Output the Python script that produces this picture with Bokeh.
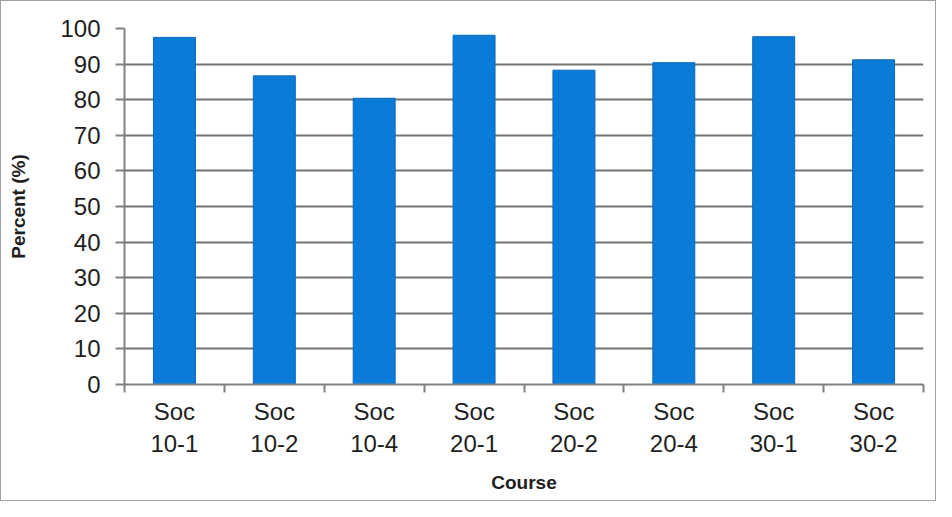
from bokeh.plotting import figure
from bokeh.models import FixedTicker, Range1d
from bokeh.embed import file_html
from bokeh.resources import INLINE

courses = ["Soc\n10-1", "Soc\n10-2", "Soc\n10-4", "Soc\n20-1", "Soc\n20-2", "Soc\n20-4", "Soc\n30-1", "Soc\n30-2"]
percent = [97.5, 86.7, 80.4, 98.1, 88.3, 90.4, 97.7, 91.2]
y_ticks = [0, 10, 20, 30, 40, 50, 60, 70, 80, 90, 100]

xs = [i + 0.5 for i in range(len(courses))]

p = figure(width=936, height=501, output_backend="svg", toolbar_location=None,
           x_range=Range1d(0, len(courses)), y_range=Range1d(0, 100),
           min_border_left=123, min_border_right=14, min_border_top=27, min_border_bottom=118)
p.styles = {"border": "1px solid #a0a0a0"}
p.outline_line_color = None

p.vbar(x=xs, top=percent, width=0.42, fill_color="#0a7bd6", line_color="#0868bd", line_width=1)

font = "Liberation Sans"
txt = "#1e1e1e"
p.xaxis.ticker = FixedTicker(ticks=xs, minor_ticks=list(range(len(courses) + 1)))
p.xaxis.major_label_overrides = {x: c for x, c in zip(xs, courses)}
p.xaxis.major_tick_line_color = None
p.xaxis.major_tick_out = 0
p.xaxis.major_tick_in = 0
p.xaxis.minor_tick_line_color = "#808080"
p.xaxis.minor_tick_line_width = 2
p.xaxis.minor_tick_out = 8
p.xaxis.minor_tick_in = 0
p.xaxis.axis_line_color = "#808080"
p.xaxis.axis_line_width = 2
p.xaxis.major_label_text_font = font
p.xaxis.major_label_text_font_size = "24px"
p.xaxis.major_label_text_color = txt
p.xaxis.major_label_standoff = 5
p.xaxis.axis_label = "Course"
p.xaxis.axis_label_text_font = font
p.xaxis.axis_label_text_font_style = "bold"
p.xaxis.axis_label_text_font_size = "19px"
p.xaxis.axis_label_text_color = txt
p.xaxis.axis_label_standoff = 12

p.yaxis.ticker = FixedTicker(ticks=y_ticks, minor_ticks=[])
p.yaxis.axis_line_color = "#808080"
p.yaxis.axis_line_width = 2
p.yaxis.major_tick_line_color = "#808080"
p.yaxis.major_tick_line_width = 2
p.yaxis.major_tick_out = 9
p.yaxis.major_tick_in = 0
p.yaxis.minor_tick_line_color = None
p.yaxis.major_label_text_font = font
p.yaxis.major_label_text_font_size = "24px"
p.yaxis.major_label_text_color = txt
p.yaxis.major_label_standoff = 15
p.yaxis.axis_label = "Percent (%)"
p.yaxis.axis_label_text_font = font
p.yaxis.axis_label_text_font_style = "bold"
p.yaxis.axis_label_text_font_size = "19px"
p.yaxis.axis_label_text_color = txt
p.yaxis.axis_label_standoff = 28

p.xgrid.grid_line_color = None
p.ygrid.ticker = FixedTicker(ticks=y_ticks)
p.ygrid.grid_line_color = "#747474"
p.ygrid.grid_line_width = 2

open("out.html", "w").write(file_html(p, INLINE))
